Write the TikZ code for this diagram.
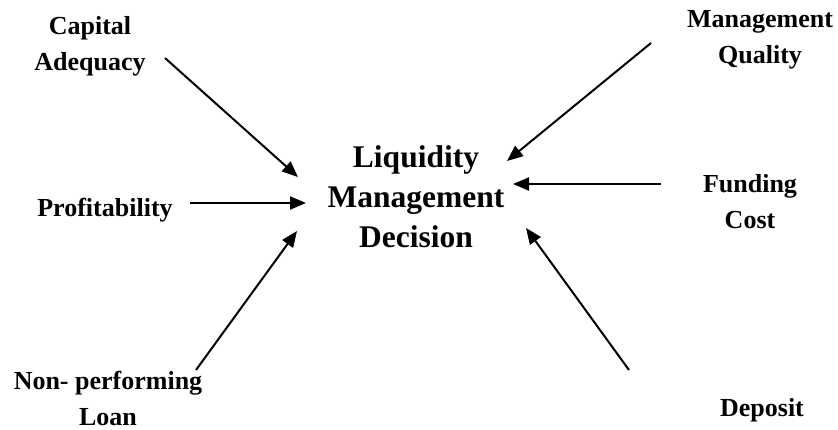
\documentclass[tikz,border=0pt]{standalone}
\usepackage{fontspec}
\setmainfont{Liberation Serif}
\usetikzlibrary{%
  positioning,
  arrows.meta,
}
\tikzset{
  factor/.style = {align=center, font=\bfseries\fontsize{26}{36}\selectfont},
  decision/.style = {align=center, font=\bfseries\fontsize{31.5}{40}\selectfont},
  link/.style = {line width=2pt, -{Triangle[length=16pt,width=13pt]}},
}

\begin{document}
\begin{tikzpicture}[x=1pt, y=1pt]
  \useasboundingbox (0,0) rectangle (838,-429);
  % one unit = one pt

  \node[decision] (dec) at (416,-197) {Liquidity\\Management\\Decision};

  \node[factor] (cap) at (90,-46) {Capital\\Adequacy};
  \node[factor] (prof) at (105,-210) {Profitability};
  \node[factor] (npl) at (108,-398) {Non- performing\\Loan};
  \node[factor] (mq) at (760,-40) {Management\\Quality};
  \node[factor] (fund) at (750,-202) {Funding\\Cost};
  \node[factor] (dep) at (762,-410) {Deposit};

  % tails and tips of the arrows
  \coordinate (capT) at (165,-58);
  \coordinate (capH) at (298,-177);
  \coordinate (profT) at (190,-203);
  \coordinate (profH) at (306,-203);
  \coordinate (nplT) at (196,-370);
  \coordinate (nplH) at (297,-231);
  \coordinate (mqT) at (651,-43);
  \coordinate (mqH) at (507,-161);
  \coordinate (fundT) at (661,-184);
  \coordinate (fundH) at (513,-184);
  \coordinate (depT) at (629,-370);
  \coordinate (depH) at (526,-228);

  \draw[link] (capT) -- (capH);
  \draw[link] (profT) -- (profH);
  \draw[link] (nplT) -- (nplH);
  \draw[link] (mqT) -- (mqH);
  \draw[link] (fundT) -- (fundH);
  \draw[link] (depT) -- (depH);
\end{tikzpicture}
\end{document}
